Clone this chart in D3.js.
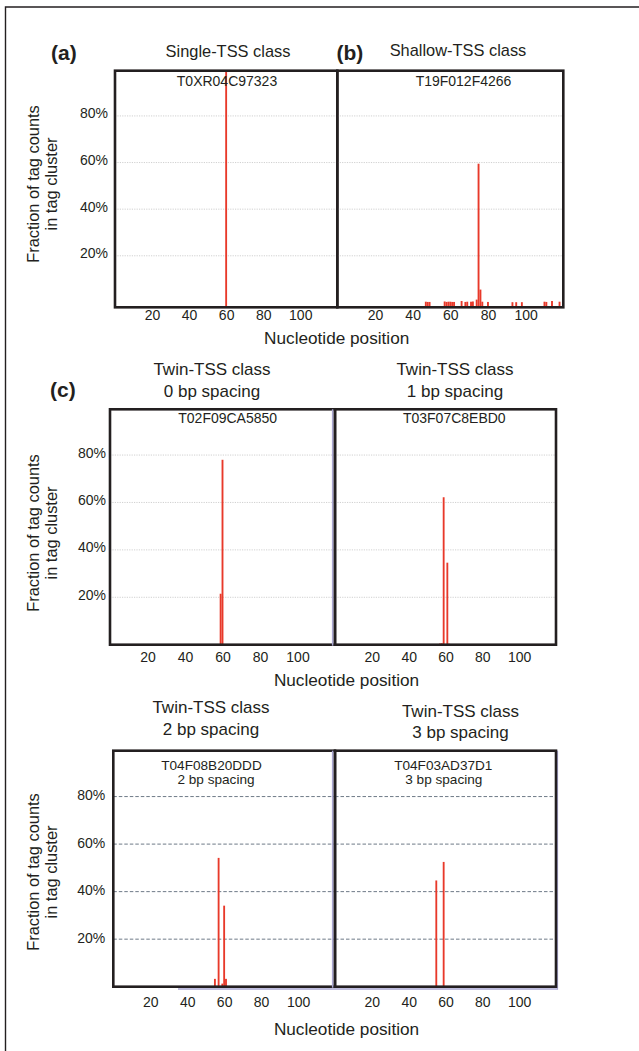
<!DOCTYPE html>
<html>
<head>
<meta charset="utf-8">
<script src="https://cdn.jsdelivr.net/npm/d3@7"></script>
<style>
  html, body { margin: 0; padding: 0; background: #fff; }
  svg { display: block; font-family: "Liberation Sans", Arial, Helvetica, sans-serif; }
</style>
</head>
<body>
<svg id="chart" width="639" height="1051"></svg>
<script>
// ---------------- DATA ----------------
const xTicks = [20, 40, 60, 80, 100];
const yTicks = [0.2, 0.4, 0.6, 0.8];
const panelLetters = ["(a)", "(b)", "(c)"];
const classTitles = [
  ["Single-TSS class"],
  ["Shallow-TSS class"],
  ["Twin-TSS class", "0 bp spacing"],
  ["Twin-TSS class", "1 bp spacing"],
  ["Twin-TSS class", "2 bp spacing"],
  ["Twin-TSS class", "3 bp spacing"]
];
const clusterIds = ["T0XR04C97323", "T19F012F4266", "T02F09CA5850", "T03F07C8EBD0", "T04F08B20DDD", "T04F03AD37D1"];
const clusterNotes = ["", "", "", "", "2 bp spacing", "3 bp spacing"];
const yTitleLines = ["Fraction of tag counts", "in tag cluster"];
const xTitle = "Nucleotide position";

// positions (nt) and fraction of tag counts
const singlePos = [60];
const singleVal = [0.994];
const shallowPos = [47, 48, 49, 57, 58, 59, 60, 61, 62, 66, 68, 69, 71, 72, 74, 75, 76, 77, 80, 93, 95, 98, 110, 111, 114, 118];
const shallowVal = [0.003, 0.002, 0.002, 0.004, 0.002, 0.003, 0.003, 0.002, 0.002, 0.006, 0.002, 0.003, 0.003, 0.004, 0.012, 0.595, 0.055, 0.003, 0.002, 0.001, 0.001, 0.001, 0.003, 0.002, 0.006, 0.003];
const twin0Pos = [59, 60];
const twin0Val = [0.215, 0.78];
const twin1Pos = [57, 58, 59, 61, 62];
const twin1Val = [0.005, 0.006, 0.622, 0.346, 0.004];
const twin2Pos = [55, 57, 59, 60, 61];
const twin2Val = [0.033, 0.542, 0.013, 0.341, 0.033];
const twin3Pos = [55, 59];
const twin3Val = [0.447, 0.525];

// ---------------- LAYOUT ----------------
const svg = d3.select("#chart");
const ink = "#231f20";
const red = "#e8392a";

// outer partial border
svg.append("path").attr("d", "M5.5,1051 V7 H639").attr("fill", "none").attr("stroke", ink).attr("stroke-width", 1.4);

const series = [
  [singlePos, singleVal], [shallowPos, shallowVal],
  [twin0Pos, twin0Val], [twin1Pos, twin1Val],
  [twin2Pos, twin2Val], [twin3Pos, twin3Val]
];

const rows = [
  { top: 70.7, bottom: 307.3, yDomain: [-0.021, 0.994], edges: [115, 337.3, 563.3], grid: "dot",
    yPad: 7, yDy: 2, xPad: 13, yTitleCy: 184, xTitleY: 344, xTitleCx: 336.7 },
  { top: 409.3, bottom: 644.7, yDomain: [0, 0.993], edges: [110, 335, 556], grid: "dot",
    yPad: 4, yDy: 2, xPad: 17, yTitleCy: 533, xTitleY: 686, xTitleCx: 346.5 },
  { top: 750.7, bottom: 986.7, yDomain: [0, 0.993], edges: [113.3, 335, 556], grid: "dash",
    yPad: 8, yDy: 3, xPad: 20, yTitleCy: 872, xTitleY: 1035, xTitleCx: 346.5 }
];

const titleSpecs = [
  { cx: 228, y: [56.5], size: 16.4 },
  { cx: 458, y: [56], size: 16.4 },
  { cx: 212, y: [375, 396.5], size: 17 },
  { cx: 455, y: [375, 396.5], size: 17 },
  { cx: 211, y: [713.3, 734.5], size: 17 },
  { cx: 460.5, y: [716.7, 738.3], size: 17 }
];
const idSpecs = [
  { cx: 227, y: 86, size: 14 }, { cx: 463.5, y: 86, size: 14 },
  { cx: 227.7, y: 422.7, size: 14 }, { cx: 454.3, y: 422.7, size: 14 },
  { cx: 211.5, y: 769.5, size: 13.6, noteCx: 216, noteY: 784 },
  { cx: 443.3, y: 769.5, size: 13.6, noteCx: 443.8, noteY: 784 }
];
const letterSpecs = [
  { x: 51, y: 59.5 }, { x: 336.5, y: 59.5 }, { x: 50, y: 396.5 }
];

rows.forEach((row, ri) => {
  const y = d3.scaleLinear().domain(row.yDomain).range([row.bottom, row.top]);
  for (let c = 0; c < 2; c++) {
    const pi = ri * 2 + c;
    const x0 = row.edges[c], x1 = row.edges[c + 1];
    const x = d3.scaleLinear().domain([0, 120]).range([x0, x1]);
    const g = svg.append("g");

    // gridlines
    g.append("g").selectAll("line").data(yTicks).join("line")
      .attr("x1", x0).attr("x2", x1 + (c === 1 && ri === 0 ? 2 : 0))
      .attr("y1", d => y(d)).attr("y2", d => y(d))
      .attr("stroke", row.grid === "dash" ? "#6e7a87" : "#c4c4c4")
      .attr("stroke-width", row.grid === "dash" ? 1 : 0.8)
      .attr("stroke-dasharray", row.grid === "dash" ? "3.5,2" : "1.2,1.2");

    // bars
    const [pos, val] = series[pi];
    const bw = x(1) - x(0);
    const base = y(row.yDomain[0]);
    g.append("g").selectAll("rect").data(pos.map((p, i) => ({ p, v: val[i] }))).join("rect")
      .attr("x", d => x(d.p) - bw / 2)
      .attr("width", bw)
      .attr("y", d => y(d.v))
      .attr("height", d => base - y(d.v))
      .attr("fill", red);

    // faint lavender edge artifacts (rows c)
    if (ri > 0 && c === 1) {
      g.append("line").attr("x1", x0 - 2.3).attr("x2", x0 - 2.3).attr("y1", row.top).attr("y2", row.bottom + 1)
        .attr("stroke", "#a9a6d0").attr("stroke-width", 1.6);
    }
    if (ri === 2) {
      g.append("line").attr("x1", c === 0 ? 178 : x0).attr("x2", c === 1 ? x1 + 1.5 : x1)
        .attr("y1", row.bottom + 2.3).attr("y2", row.bottom + 2.3)
        .attr("stroke", "#aaa7d2").attr("stroke-width", 1.4);
      if (c === 1) {
        g.append("line").attr("x1", x1 + 1.5).attr("x2", x1 + 1.5).attr("y1", row.top).attr("y2", row.bottom + 3)
          .attr("stroke", "#aaa7d2").attr("stroke-width", 1.2);
      }
    }

    // frame
    g.append("rect").attr("x", x0).attr("y", row.top).attr("width", x1 - x0).attr("height", row.bottom - row.top)
      .attr("fill", "none").attr("stroke", ink).attr("stroke-width", 2.6);

    // x axis
    const xAxis = g.append("g").attr("transform", `translate(0,${row.bottom})`)
      .call(d3.axisBottom(x).tickValues(xTicks).tickSize(0).tickPadding(row.xPad));
    xAxis.select(".domain").remove();
    xAxis.selectAll("text").attr("font-size", 14).attr("fill", ink)
      .attr("font-family", "Liberation Sans, Arial, sans-serif").attr("dy", "0");

    // y axis only on left panel
    if (c === 0) {
      const yAxis = g.append("g").attr("transform", `translate(${x0},0)`)
        .call(d3.axisLeft(y).tickValues(yTicks).tickSize(0).tickPadding(row.yPad).tickFormat(d3.format(".0%")));
      yAxis.select(".domain").remove();
      yAxis.selectAll("text").attr("font-size", 14).attr("fill", ink)
        .attr("font-family", "Liberation Sans, Arial, sans-serif").attr("dy", row.yDy);

      // y title
      const yt = svg.append("text").attr("transform", `translate(38.5,${row.yTitleCy}) rotate(-90)`)
        .attr("text-anchor", "middle").attr("font-size", 16.4).attr("fill", ink);
      yt.append("tspan").attr("x", 0).attr("y", 0).text(yTitleLines[0]);
      yt.append("tspan").attr("x", 0).attr("y", 18.5).text(yTitleLines[1]);
    }

    // class titles
    const ts = titleSpecs[pi];
    classTitles[pi].forEach((t, k) => {
      svg.append("text").attr("x", ts.cx).attr("y", ts.y[k]).attr("text-anchor", "middle")
        .attr("font-size", ts.size).attr("fill", ink).text(t);
    });

    // cluster ids
    const is = idSpecs[pi];
    svg.append("text").attr("x", is.cx).attr("y", is.y).attr("text-anchor", "middle")
      .attr("font-size", is.size).attr("fill", ink).text(clusterIds[pi]);
    if (clusterNotes[pi]) {
      svg.append("text").attr("x", is.noteCx).attr("y", is.noteY).attr("text-anchor", "middle")
        .attr("font-size", is.size).attr("fill", ink).text(clusterNotes[pi]);
    }
  }

  // x title
  svg.append("text").attr("x", row.xTitleCx).attr("y", row.xTitleY).attr("text-anchor", "middle")
    .attr("font-size", 17.2).attr("fill", ink).text(xTitle);
});

// panel letters
letterSpecs.forEach((s, i) => {
  svg.append("text").attr("x", s.x).attr("y", s.y).attr("font-size", 21).attr("font-weight", "bold")
    .attr("fill", ink).text(panelLetters[i]);
});
</script>
</body>
</html>
